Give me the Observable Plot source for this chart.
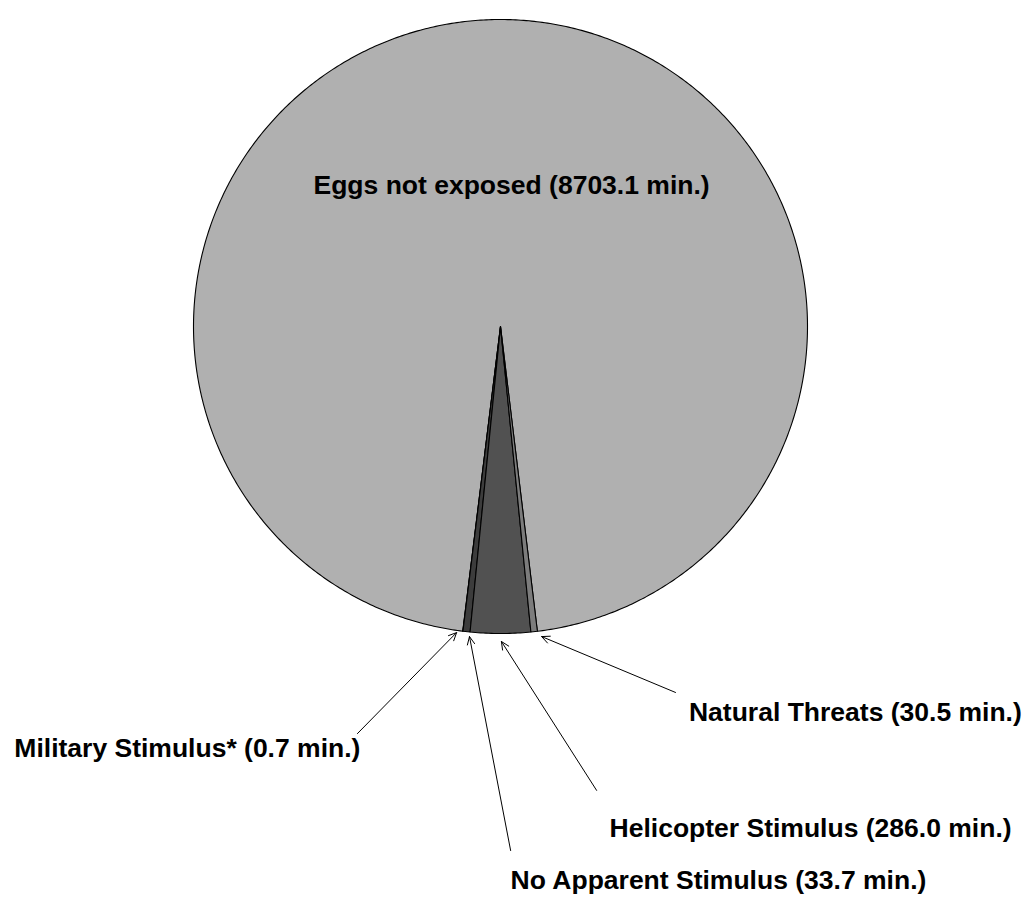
<!DOCTYPE html>
<html><head><meta charset="utf-8">
<script src="https://cdn.jsdelivr.net/npm/d3@7"></script>
<script src="https://cdn.jsdelivr.net/npm/@observablehq/plot@0.6"></script>
<style>body{margin:0;background:#fff}</style>
</head><body><div id="chart"></div>
<script>
// ---- data ----
const categories = ["Eggs not exposed", "Military Stimulus*", "No Apparent Stimulus", "Helicopter Stimulus", "Natural Threats"];
const minutes = [8703.1, 0.7, 33.7, 286.0, 30.5];
const sliceColors = ["#b0b0b0", "#1e1e1e", "#3c3c3c", "#515151", "#7c7c7c"];
// label anchors (in pie radii from the centre)
const labelX = [0.036, -1.020, 0.710, 1.010, 1.156];
const labelY = [0.459, -1.375, -1.805, -1.635, -1.257];
// arrow heads / tails (in pie radii), null = no arrow
const arrowHeadX = [null, -0.143, -0.101, 0.003, 0.134];
const arrowHeadY = [null, -0.997, -1.010, -1.026, -1.010];
const arrowTailX = [null, -0.466, 0.033, 0.313, 0.570];
const arrowTailY = [null, -1.326, -1.707, -1.511, -1.192];

// ---- geometry from data ----
const total = d3.sum(minutes);
const heliIdx = 3;
const beforeHeliMid = d3.sum(minutes.slice(0, heliIdx)) + minutes[heliIdx] / 2;
const startDeg = 270 - 360 * beforeHeliMid / total; // helicopter slice centred at the bottom
const slicePts = [];
let cum = 0;
categories.forEach((cat, i) => {
  const a0 = startDeg + 360 * cum / total;
  const a1 = a0 + 360 * minutes[i] / total;
  cum += minutes[i];
  const n = Math.max(2, Math.ceil((a1 - a0) / 0.5) + 1);
  slicePts.push({cat, x: 0, y: 0});
  for (let k = 0; k < n; k++) {
    const a = (a0 + (a1 - a0) * k / (n - 1)) * Math.PI / 180;
    slicePts.push({cat, x: Math.cos(a), y: Math.sin(a)});
  }
  slicePts.push({cat, x: 0, y: 0});
});
const labels = categories.map((cat, i) => ({
  text: `${cat} (${minutes[i].toFixed(1)} min.)`, x: labelX[i], y: labelY[i]
}));
const arrows = categories.map((cat, i) => ({
  cat, x1: arrowTailX[i], y1: arrowTailY[i], x2: arrowHeadX[i], y2: arrowHeadY[i]
})).filter(d => d.x1 != null);

const W = 1028, H = 897, R = 307, CX = 500, CY = 326;
const chart = Plot.plot({
  width: W, height: H,
  margin: 0,
  x: {domain: [-CX / R, (W - CX) / R], axis: null},
  y: {domain: [(CY - H) / R, CY / R], axis: null},
  color: {type: "ordinal", domain: categories, range: sliceColors},
  style: {fontFamily: "'Liberation Sans', Arial, sans-serif", background: "#fff"},
  marks: [
    Plot.line(slicePts, {x: "x", y: "y", z: "cat", fill: "cat", stroke: "#000", strokeWidth: 1.1, curve: "linear", strokeLinejoin: "round"}),
    Plot.arrow(arrows, {x1: "x1", y1: "y1", x2: "x2", y2: "y2", stroke: "#000", strokeWidth: 1, headLength: 13, headAngle: 50, bend: 0}),
    Plot.text(labels, {x: "x", y: "y", text: "text", fontSize: 26.5, fontWeight: "bold", fill: "#000", fontFamily: "'Liberation Sans', Arial, sans-serif"})
  ]
});
document.getElementById("chart").appendChild(chart);
</script>
</body></html>
